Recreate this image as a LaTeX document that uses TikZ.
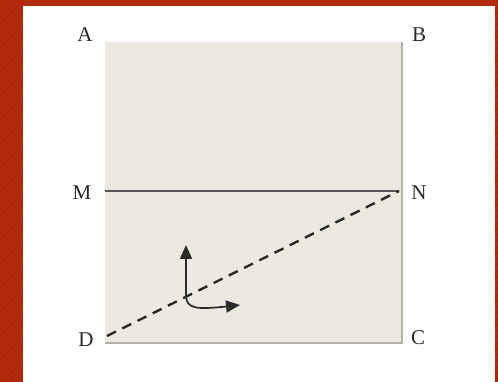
\documentclass[tikz,border=0pt]{standalone}
\usepackage{fontspec}
\setmainfont{Liberation Serif}
\usetikzlibrary{arrows.meta}
\definecolor{bgred}{HTML}{B82A0C}
\definecolor{stripe}{HTML}{AC260A}
\definecolor{sheet}{HTML}{ECEAE0}
\definecolor{edge}{HTML}{B4B2AA}
\definecolor{ink}{HTML}{2A2A2A}
\tikzset{
  lbl/.style={font=\fontsize{21}{22}\selectfont, text=ink, inner sep=0pt},
  fold/.style={draw=ink!80, line width=1.8pt},
  crease/.style={draw=ink, line width=2.4pt, dash pattern=on 10pt off 7pt},
  turn/.style={draw=ink, line width=1.7pt, -{Triangle[length=14pt,width=12pt]}}
}
\begin{document}
\begin{tikzpicture}[x=1pt,y=1pt]
\useasboundingbox (0,0) rectangle (498,382);
% red background with hatching
\fill[bgred] (0,0) rectangle (498,382);
\begin{scope}
\clip (0,0) rectangle (498,382);
\foreach \i in {-400,-394,...,500} {
  \draw[stripe, line width=1.5pt] (\i,0) -- (\i+382,382);
}
\end{scope}
\fill[white] (23,0) rectangle (495,376);
% sheet
\coordinate (A) at (105,340);
\coordinate (B) at (402,340);
\coordinate (C) at (402,39);
\coordinate (D) at (105,39);
\coordinate (M) at (105,191);
\coordinate (N) at (399,191);
\coordinate (Dc) at (107,46);
\fill[sheet] (D) rectangle (B);
\draw[edge, line width=2pt] (B) -- (C) -- (D);
% fold line and crease
\draw[fold] (M) -- (N);
\draw[crease] (Dc) -- (N);
% labels
\node[lbl] (la) at (85,347) {A};
\node[lbl] (lb) at (419,347) {B};
\node[lbl] (lm) at (82,189) {M};
\node[lbl] (ln) at (419,189) {N};
\node[lbl] (ld) at (86,42) {D};
\node[lbl] (lc) at (418,44) {C};
% rotation arrows
\coordinate (o) at (186,86);
\coordinate (up) at (186,137);
\coordinate (rt) at (240,77);
\draw[turn] (o) -- (up);
\draw[turn] (o) .. controls (187,74) and (194,72) .. (rt);
\end{tikzpicture}
\end{document}
